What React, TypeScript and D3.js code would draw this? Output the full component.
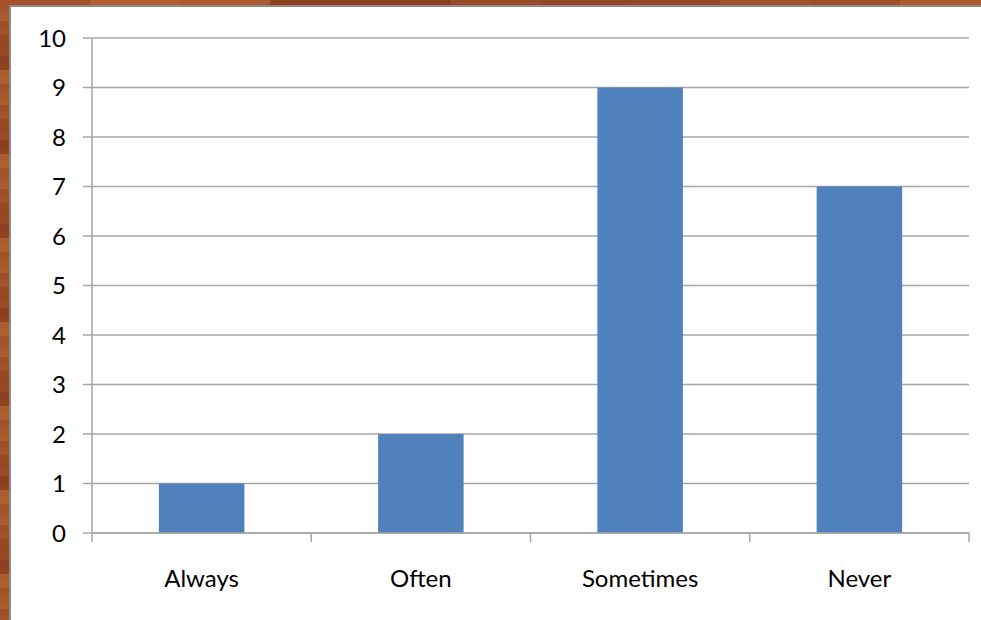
import React from "react";
import * as d3 from "d3";

const categories = ["Always", "Often", "Sometimes", "Never"];
const counts = [1, 2, 9, 7];
const yTicks = [0, 1, 2, 3, 4, 5, 6, 7, 8, 9, 10];

// wood frame stripe shades
const woodShades = ["#a4512a", "#9a4a24", "#ad5a2e", "#8f4220", "#a3532b", "#b05f31", "#964723", "#a8562c", "#8c3f1e", "#a04e28", "#ab5b2f", "#984824"];

const W = 981;
const H = 620;
const margin = { left: 92, right: 12, top: 38, bottom: 87 };

export default function App() {
  const x = d3
    .scaleBand<string>()
    .domain(categories)
    .range([margin.left, W - margin.right])
    .paddingInner(0.61)
    .paddingOuter(0.305);
  const band = d3.scaleBand<string>().domain(categories).range([margin.left, W - margin.right]);
  const y = d3.scaleLinear().domain([0, 10]).range([H - margin.bottom, margin.top]);

  const x0 = margin.left;
  const x1 = W - margin.right;
  const font = "Lato, 'Open Sans', sans-serif";

  const leftStripes = d3.range(0, H, 7);
  const topStripes = d3.range(0, W, 90);

  return (
    <svg width={W} height={H} style={{ position: "fixed", left: 0, top: 0 }}>
      {/* wooden frame */}
      <rect x={0} y={0} width={W} height={H} fill="#a04f28" />
      {leftStripes.map((sy, i) => (
        <rect key={"l" + i} x={0} y={sy} width={10} height={7} fill={woodShades[(i * 7) % woodShades.length]} />
      ))}
      {topStripes.map((sx, i) => (
        <rect key={"t" + i} x={sx} y={0} width={90} height={6} fill={woodShades[(i * 5) % woodShades.length]} />
      ))}
      <rect x={9} y={5} width={W - 9} height={H - 5} fill="#8c8c8c" />
      <rect x={11} y={7} width={W - 11} height={H - 7} fill="#ffffff" />

      {/* gridlines */}
      {yTicks.map((t) => (
        <line key={"g" + t} x1={x0 - 9} x2={x1} y1={y(t)} y2={y(t)} stroke="#a6a6a6" strokeWidth={1.5} />
      ))}
      {/* y axis */}
      <line x1={x0} x2={x0} y1={y(10)} y2={y(0)} stroke="#a6a6a6" strokeWidth={1.5} />
      {yTicks.map((t) => (
        <text key={"yl" + t} x={66} y={y(t)} dy="0.36em" textAnchor="end" fontFamily={font} fontSize={24} fill="#000">
          {t}
        </text>
      ))}

      {/* bars */}
      {categories.map((c, i) => (
        <rect key={c} x={x(c)} y={y(counts[i])} width={x.bandwidth()} height={y(0) - y(counts[i])} fill="#4f81bd" />
      ))}

      {/* x axis */}
      <line x1={x0} x2={x1} y1={y(0)} y2={y(0)} stroke="#a6a6a6" strokeWidth={1.5} />
      {[...categories.map((c) => band(c) as number), x1].map((tx, i) => (
        <line key={"xt" + i} x1={tx} x2={tx} y1={y(0)} y2={y(0) + 9} stroke="#a6a6a6" strokeWidth={1.5} />
      ))}
      {categories.map((c) => (
        <text key={"xl" + c} x={(band(c) as number) + band.bandwidth() / 2} y={578} dy="0.36em" textAnchor="middle" fontFamily={font} fontSize={24} fill="#000">
          {c}
        </text>
      ))}
    </svg>
  );
}
